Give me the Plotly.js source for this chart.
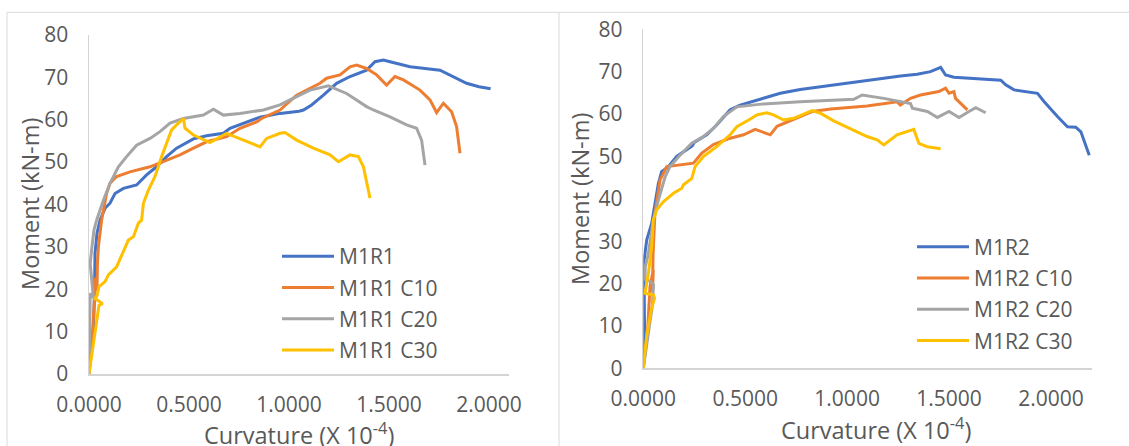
<!DOCTYPE html>
<html>
<head>
<meta charset="utf-8">
<script src="https://cdn.plot.ly/plotly-3.0.1.min.js"></script>
<style>
  html, body { margin: 0; padding: 0; background: #fff; }
  #chart { width: 1129px; height: 446px; }
</style>
</head>
<body>
<div id="chart"></div>
<script>
// ---------- Data (curvature x 10^-4, moment kN-m) ----------
const seriesNamesLeft  = ["M1R1", "M1R1 C10", "M1R1 C20", "M1R1 C30"];
const seriesNamesRight = ["M1R2", "M1R2 C10", "M1R2 C20", "M1R2 C30"];
const xTickVals = [0, 0.5, 1.0, 1.5, 2.0];
const yTickVals = [0, 10, 20, 30, 40, 50, 60, 70, 80];

const m1r1_x = [0, 0.022, 0.028, 0.03, 0.04, 0.055, 0.08, 0.105, 0.13, 0.172, 0.238, 0.263, 0.288, 0.338, 0.388, 0.438, 0.522, 0.588, 0.672, 0.705, 0.772, 0.855, 0.955, 1.05, 1.072, 1.113, 1.172, 1.238, 1.305, 1.388, 1.43, 1.472, 1.505, 1.605, 1.755, 1.805, 1.888, 1.95, 2.008];
const m1r1_y = [0, 10, 20, 28.5, 33.2, 36.3, 39.1, 40.3, 42.6, 43.8, 44.6, 45.8, 47, 48.9, 51.3, 53.3, 55.5, 56.2, 56.8, 58, 59.2, 60.6, 61.5, 62, 62.3, 63.5, 65.8, 68.6, 70.2, 71.7, 73.7, 74.1, 73.7, 72.5, 71.7, 70.6, 68.6, 67.8, 67.3];

const m1r1c10_x = [0, 0.015, 0.028, 0.03, 0.04, 0.04, 0.042, 0.047, 0.055, 0.063, 0.088, 0.105, 0.138, 0.205, 0.305, 0.372, 0.455, 0.522, 0.588, 0.688, 0.755, 0.838, 0.863, 0.955, 1.038, 1.155, 1.188, 1.255, 1.305, 1.338, 1.388, 1.438, 1.488, 1.53, 1.572, 1.655, 1.705, 1.738, 1.772, 1.813, 1.838, 1.855];
const m1r1c10_y = [0, 8, 18, 22.6, 22.3, 19.5, 26, 30, 33, 36.3, 42.6, 45, 46.6, 47.7, 48.9, 50.1, 51.7, 53.3, 54.8, 56, 58, 59.5, 60.3, 62.3, 65.8, 68.6, 69.8, 70.6, 72.5, 72.9, 72.1, 70.6, 68.2, 70.2, 69.4, 67, 64.7, 61.7, 63.9, 61.9, 58.4, 52.1];

const m1r1c20_x = [0, 0.004, 0.006, 0.022, 0.006, 0.013, 0.025, 0.038, 0.072, 0.105, 0.147, 0.188, 0.238, 0.305, 0.355, 0.405, 0.472, 0.572, 0.622, 0.672, 0.755, 0.872, 0.955, 1.005, 1.105, 1.197, 1.288, 1.388, 1.422, 1.505, 1.588, 1.638, 1.663, 1.68];
const m1r1c20_y = [0, 10, 19, 18, 26, 29.3, 34, 36.3, 41, 45, 48.9, 51.3, 54, 55.6, 57.2, 59.2, 60.3, 61.1, 62.5, 61.1, 61.5, 62.3, 63.5, 64.7, 67, 68, 66.2, 63.1, 62.3, 60.7, 58.8, 58, 55.2, 49.3];

const m1r1c30_x = [0, 0.025, 0.045, 0.05, 0.068, 0.03, 0.04, 0.05, 0.08, 0.097, 0.138, 0.163, 0.197, 0.222, 0.247, 0.263, 0.272, 0.297, 0.33, 0.363, 0.388, 0.413, 0.438, 0.472, 0.48, 0.522, 0.605, 0.688, 0.772, 0.855, 0.888, 0.955, 0.98, 1.038, 1.122, 1.205, 1.247, 1.305, 1.347, 1.372, 1.405];
const m1r1c30_y = [0, 8, 14, 16.2, 16.6, 17.8, 18.5, 20.6, 21.8, 23.4, 25.3, 28.1, 31.6, 32.4, 35.6, 36.3, 40.3, 43.4, 46.6, 51.3, 54.4, 57.6, 58.8, 60.3, 58, 56.4, 54.6, 56.8, 55.2, 53.6, 55.6, 56.8, 57, 55.2, 53.3, 51.7, 50.1, 51.7, 51.3, 48.9, 41.5];

const m1r2_x = [0, 0.006, 0.003, 0.017, 0.041, 0.057, 0.074, 0.09, 0.123, 0.164, 0.197, 0.24, 0.25, 0.311, 0.36, 0.426, 0.475, 0.59, 0.672, 0.77, 0.934, 1.098, 1.262, 1.344, 1.409, 1.459, 1.483, 1.524, 1.754, 1.778, 1.819, 1.934, 1.967, 2.032, 2.081, 2.122, 2.147, 2.188];
const m1r2_y = [0, 10, 25.2, 30.3, 34.2, 38.9, 43.6, 46.4, 47.6, 50, 51.1, 52.5, 53.3, 55.1, 57.4, 61, 62.1, 63.7, 64.9, 65.8, 66.9, 68, 69, 69.4, 70, 71, 69.2, 68.7, 68, 66.9, 65.7, 64.9, 62.9, 59.4, 57, 56.9, 55.8, 50.3];

const m1r2c10_x = [0, 0.02, 0.033, 0.049, 0.045, 0.048, 0.057, 0.082, 0.115, 0.18, 0.246, 0.287, 0.344, 0.426, 0.492, 0.549, 0.623, 0.656, 0.754, 0.828, 0.92, 1.098, 1.245, 1.261, 1.311, 1.36, 1.45, 1.483, 1.5, 1.524, 1.532, 1.557, 1.59];
const m1r2c10_y = [0, 8, 19.3, 23.2, 18, 27, 36.6, 44.4, 47.6, 48, 48.4, 50.8, 52.8, 54.3, 55.1, 56.4, 55.1, 57.1, 59, 60.6, 61.2, 61.9, 62.9, 62.1, 63.7, 64.5, 65.3, 66.1, 64.9, 65.3, 63.7, 62.5, 61];

const m1r2c20_x = [0, 0.025, 0.045, 0.05, 0.035, 0.008, 0.01, 0.025, 0.049, 0.074, 0.107, 0.131, 0.18, 0.238, 0.295, 0.344, 0.393, 0.459, 0.59, 0.77, 0.918, 1.033, 1.074, 1.18, 1.311, 1.32, 1.394, 1.443, 1.5, 1.549, 1.598, 1.631, 1.68];
const m1r2c20_y = [0, 8, 15, 19.7, 20.5, 21, 24, 27.1, 35, 39.7, 45.2, 47.6, 50.3, 53.1, 54.7, 56.6, 59.4, 61.7, 62.4, 62.9, 63.3, 63.5, 64.5, 63.7, 62.5, 61.4, 60.6, 59.2, 60.6, 59.2, 60.6, 61.5, 60.3];

const m1r2c30_x = [0, 0.016, 0.04, 0.055, 0.05, 0.008, 0.025, 0.041, 0.049, 0.066, 0.098, 0.148, 0.189, 0.197, 0.238, 0.254, 0.295, 0.36, 0.426, 0.459, 0.517, 0.557, 0.606, 0.639, 0.688, 0.738, 0.828, 0.869, 0.934, 1.065, 1.098, 1.147, 1.18, 1.245, 1.327, 1.352, 1.393, 1.459];
const m1r2c30_y = [0, 7.5, 14, 16.5, 17.3, 17.7, 22.4, 28.7, 35, 37.4, 39.3, 41.3, 42.5, 43.3, 44.8, 47.6, 50, 52.3, 55.1, 57, 58.6, 59.8, 60.3, 59.8, 58.6, 59, 60.8, 60.2, 58.4, 55.4, 54.7, 53.9, 52.7, 55.1, 56.4, 53.1, 52.3, 51.8];

const colors = ["#4472C4", "#ED7D31", "#A5A5A5", "#FFC000"];

// ---------- Traces ----------
const leftX = [m1r1_x, m1r1c10_x, m1r1c20_x, m1r1c30_x];
const leftY = [m1r1_y, m1r1c10_y, m1r1c20_y, m1r1c30_y];
const rightX = [m1r2_x, m1r2c10_x, m1r2c20_x, m1r2c30_x];
const rightY = [m1r2_y, m1r2c10_y, m1r2c20_y, m1r2c30_y];

const traces = [];
for (let i = 0; i < 4; i++) {
  traces.push({
    type: "scatter", mode: "lines", name: seriesNamesLeft[i],
    x: leftX[i], y: leftY[i], xaxis: "x", yaxis: "y",
    legend: "legend", legendgroup: "L" + i,
    line: { color: colors[i], width: 3 }, hoverinfo: "skip"
  });
}
for (let i = 0; i < 4; i++) {
  traces.push({
    type: "scatter", mode: "lines", name: seriesNamesRight[i],
    x: rightX[i], y: rightY[i], xaxis: "x2", yaxis: "y2",
    legend: "legend2", legendgroup: "R" + i,
    line: { color: colors[i], width: 3 }, hoverinfo: "skip"
  });
}

// ---------- Layout ----------
const W = 1129, H = 446;
const px = v => v / W;
const py = v => 1 - v / H;
const FONT = "'Open Sans', 'Noto Sans', sans-serif";
const TXT = "#595959";
const AXC = "#d4d4d4";

const xCommon = {
  tickvals: xTickVals, tickformat: ".4f", showgrid: false, zeroline: false,
  showline: true, linecolor: AXC, linewidth: 1.5, ticks: "",
  tickfont: { family: FONT, size: 21, color: TXT }, ticklabelstandoff: 11,
  fixedrange: true
};
const yCommon = {
  tickvals: yTickVals, range: [0, 80], showgrid: false, zeroline: false,
  showline: true, linecolor: AXC, linewidth: 1.5, ticks: "",
  tickfont: { family: FONT, size: 21, color: TXT }, ticklabelstandoff: 15,
  fixedrange: true
};

const legendCommon = {
  font: { family: FONT, size: 21, color: TXT },
  bgcolor: "rgba(0,0,0,0)", borderwidth: 0,
  xanchor: "left", yanchor: "top", tracegroupgap: 1, itemwidth: 52
};

const frameLine = { color: "#d9d9d9", width: 1 };

const layout = {
  width: W, height: H,
  margin: { l: 0, r: 0, t: 0, b: 0 },
  paper_bgcolor: "#ffffff", plot_bgcolor: "rgba(0,0,0,0)",
  font: { family: FONT, color: TXT },
  showlegend: true,
  xaxis: Object.assign({}, xCommon, { domain: [px(89), px(509)], range: [0, 2.1], anchor: "y" }),
  yaxis: Object.assign({}, yCommon, { domain: [py(374), py(35)], anchor: "x" }),
  xaxis2: Object.assign({}, xCommon, { domain: [px(643.3), px(1091.7)], range: [0, 2.2], anchor: "y2" }),
  yaxis2: Object.assign({}, yCommon, { domain: [py(368.3), py(29.3)], anchor: "x2" }),
  legend: Object.assign({}, legendCommon, { x: px(277), y: py(236) }),
  legend2: Object.assign({}, legendCommon, { x: px(912), y: py(226.5) }),
  annotations: [
    { text: "Curvature (X 10<sup>-4</sup>)", xref: "paper", yref: "paper", x: px(299), y: py(433),
      xanchor: "center", yanchor: "middle", showarrow: false, font: { family: FONT, size: 23.5, color: TXT } },
    { text: "Moment (kN-m)", xref: "paper", yref: "paper", x: px(30), y: py(204),
      xanchor: "center", yanchor: "middle", textangle: -90, showarrow: false, font: { family: FONT, size: 23.5, color: TXT } },
    { text: "Curvature (X 10<sup>-4</sup>)", xref: "paper", yref: "paper", x: px(876), y: py(428),
      xanchor: "center", yanchor: "middle", showarrow: false, font: { family: FONT, size: 23.5, color: TXT } },
    { text: "Moment (kN-m)", xref: "paper", yref: "paper", x: px(580), y: py(199),
      xanchor: "center", yanchor: "middle", textangle: -90, showarrow: false, font: { family: FONT, size: 23.5, color: TXT } }
  ],
  shapes: [
    { type: "line", xref: "paper", yref: "paper", x0: px(7), x1: 1, y0: py(12.3), y1: py(12.3), line: frameLine, layer: "below" },
    { type: "line", xref: "paper", yref: "paper", x0: px(7), x1: px(7), y0: 0, y1: py(12.3), line: frameLine, layer: "below" },
    { type: "line", xref: "paper", yref: "paper", x0: px(559), x1: px(559), y0: 0, y1: py(12.3), line: frameLine, layer: "below" }
  ]
};

Plotly.newPlot("chart", traces, layout, { staticPlot: true, displayModeBar: false });
</script>
</body>
</html>
